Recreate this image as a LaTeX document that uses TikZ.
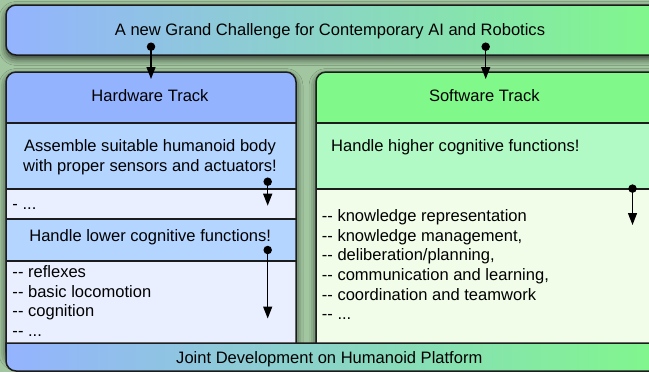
\documentclass[tikz,border=0pt]{standalone}
\usepackage{fontspec}
\setmainfont{Liberation Sans}
\usetikzlibrary{arrows.meta,shadows.blur}

\definecolor{bgsage}{HTML}{A2C69F}
\definecolor{hwhead}{HTML}{94B3FF}
\definecolor{hwmid}{HTML}{B3D5FF}
\definecolor{hwlight}{HTML}{E9EFFE}
\definecolor{swhead}{HTML}{80F88A}
\definecolor{swmid}{HTML}{B1F9C5}
\definecolor{swlight}{HTML}{F1FDE9}
\definecolor{edgeink}{HTML}{1C1C1C}

% ellipsis and double hyphen kept in macros: \foreach must not read the
% dots as a range, and the two hyphens must not join into a dash
\newcommand{\trackdots}{...}
\newcommand{\dhy}{-{}-}

\begin{document}
\begin{tikzpicture}[x=1bp,y=-1bp,
  panelshadow/.style={blur shadow={shadow xshift=0bp,shadow yshift=-3.5bp,
      shadow blur radius=7bp,shadow opacity=75}},
  outline/.style={draw=edgeink,line width=1.5bp},
  divider/.style={draw=edgeink,line width=1.3bp},
  label/.style={inner sep=0pt,font=\fontsize{16.6}{19.6}\selectfont,text=black},
  dotnode/.style={circle,fill=black,inner sep=0pt,minimum size=8.5bp},
  conn/.style={draw=black,line width=1.3bp,-{Triangle[length=12bp,width=9bp]}}]

  % canvas
  \useasboundingbox (0,0) rectangle (649,372);
  \fill[bgsage] (0,0) rectangle (649,372);
  \clip (0,0) rectangle (649,372);

  % top banner
  \path[panelshadow,outline,left color=hwhead,right color=swhead,rounded corners=10bp]
    (6,5) rectangle (660,55);

  % hardware column
  \path[panelshadow,fill=hwlight,rounded corners=10bp] (6,72) rectangle (296,360);
  \begin{scope}
    \clip[rounded corners=10bp] (6,72) rectangle (296,360);
    \fill[hwhead] (6,72) rectangle (296,123);
    \fill[hwmid] (6,123) rectangle (296,189);
    \fill[hwmid] (6,219) rectangle (296,261);
  \end{scope}
  \draw[divider] (6,123) -- (296,123);
  \draw[divider] (6,189) -- (296,189);
  \draw[divider] (6,219) -- (296,219);
  \draw[divider] (6,261) -- (296,261);
  \draw[outline,rounded corners=10bp] (6,72) rectangle (296,360);

  % software column
  \path[panelshadow,fill=swlight,rounded corners=10bp] (316,72) rectangle (670,360);
  \begin{scope}
    \clip[rounded corners=10bp] (316,72) rectangle (670,360);
    \fill[swhead] (316,72) rectangle (670,123);
    \fill[swmid] (316,123) rectangle (670,189);
  \end{scope}
  \draw[divider] (316,123) -- (670,123);
  \draw[divider] (316,189) -- (670,189);
  \draw[outline,rounded corners=10bp] (316,72) rectangle (670,360);

  % bottom banner, square top, rounded lower left corner
  \path[outline,left color=hwhead,right color=swhead]
    (670,343) -- (6,343) -- (6,361) arc[start angle=180,end angle=90,radius=10]
    -- (670,371) -- cycle;

  % texts
  \node[label,anchor=base] (title) at (330,35.8)
    {A new Grand Challenge for Contemporary AI and Robotics};
  \node[label,anchor=base] (hwtrack) at (150,101.8) {Hardware Track};
  \node[label,anchor=base] (swtrack) at (484.3,101.8) {Software Track};
  \node[label,anchor=base] (body1) at (150,151.6) {Assemble suitable humanoid body};
  \node[label,anchor=base] (body2) at (150,171.4) {with proper sensors and actuators!};
  \node[label,anchor=base west] (hwetc) at (12.3,209.2) {- \trackdots};
  \node[label,anchor=base] (lower) at (150.2,241) {Handle lower cognitive functions!};
  \node[label,anchor=base west] (higher) at (331,151.6) {Handle higher cognitive functions!};
  \node[label,anchor=base] (joint) at (329.3,363.3) {Joint Development on Humanoid Platform};

  \foreach \txt [count=\i] in {{\dhy{} reflexes},{\dhy{} basic locomotion},
      {\dhy{} cognition},{\dhy{} \trackdots}}
    \node[label,anchor=base west] (hwlist\i) at (12.3,{277.8+19.5*(\i-1)}) {\txt};
  \foreach \txt [count=\i] in {{\dhy{} knowledge representation},{\dhy{} knowledge management,},
      {\dhy{} deliberation/planning,},{\dhy{} communication and learning,},
      {\dhy{} coordination and teamwork},{\dhy{} \trackdots}}
    \node[label,anchor=base west] (swlist\i) at (321.7,{221.7+19.6*(\i-1)}) {\txt};

  % connectors: dot start, filled triangle end
  \node[dotnode] (d1) at (151,46.7) {};
  \coordinate (t1) at (151,79);
  \node[dotnode] (d2) at (485.7,46.7) {};
  \coordinate (t2) at (485.7,79);
  \node[dotnode] (d3) at (267.7,181.7) {};
  \coordinate (t3) at (267.7,205.7);
  \node[dotnode] (d4) at (267.7,250) {};
  \coordinate (t4) at (267.7,318.5);
  \node[dotnode] (d5) at (632.5,188.6) {};
  \coordinate (t5) at (632.5,225);
  \foreach \k in {1,...,5}
    \draw[conn] (d\k.center) -- (t\k);
\end{tikzpicture}
\end{document}
